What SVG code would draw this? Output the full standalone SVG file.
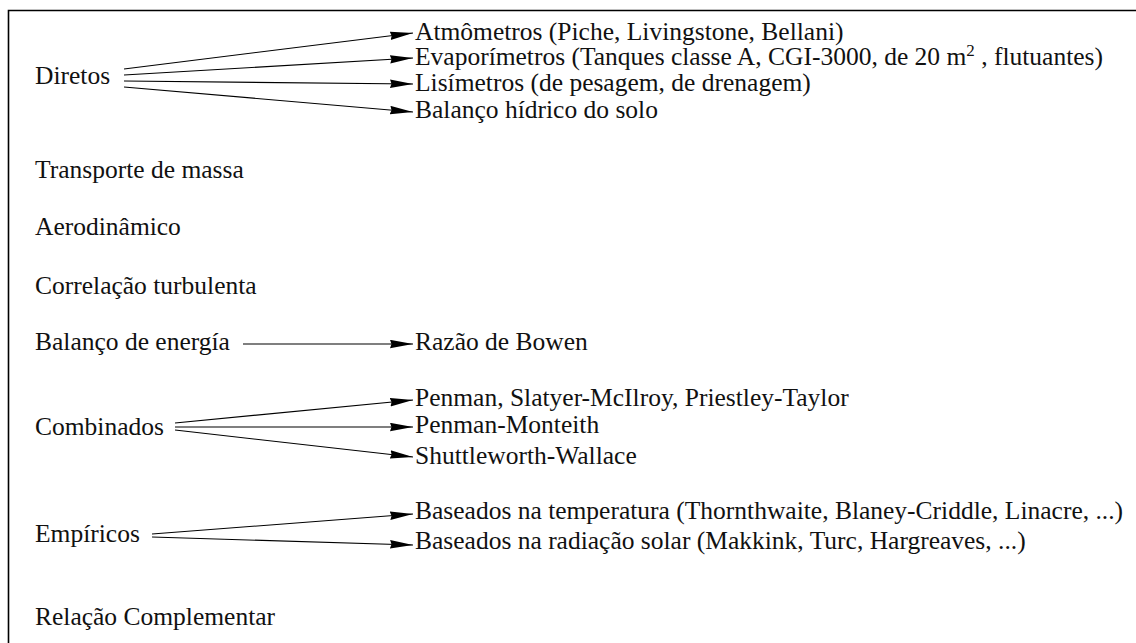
<svg xmlns="http://www.w3.org/2000/svg" width="1136" height="643" viewBox="0 0 1136 643">
<defs>
<marker id="ah" markerWidth="23" markerHeight="9" refX="23" refY="4.5" orient="auto" markerUnits="userSpaceOnUse">
<path d="M0,0.3 L23,4.5 L0,8.7 L1.5,4.5 Z" fill="#000"/>
</marker>
<style>
text{font-family:"Liberation Serif","Times New Roman",serif;font-size:25.5px;fill:#111}
.c line{stroke:#000;stroke-width:1.1;marker-end:url(#ah)}
</style>
</defs>
<rect width="1136" height="643" fill="#fff"/>
<path d="M8.5,643 V10.5 H1136" fill="none" stroke="#000" stroke-width="1.6"/>
<g id="n-diretos"><text x="35" y="84">Diretos</text></g>
<g id="n-atm"><text x="415" y="40">Atmômetros (Piche, Livingstone, Bellani)</text></g>
<g id="n-evap"><text x="415" y="65">Evaporímetros (Tanques classe A, CGI-3000, de 20 m<tspan dy="-9" font-size="17">2</tspan><tspan dy="9"> , flutuantes)</tspan></text></g>
<g id="n-lis"><text x="415" y="91">Lisímetros (de pesagem, de drenagem)</text></g>
<g id="n-bal"><text x="415" y="118">Balanço hídrico do solo</text></g>
<g id="n-transp"><text x="35" y="178">Transporte de massa</text></g>
<g id="n-aero"><text x="35" y="235">Aerodinâmico</text></g>
<g id="n-corr"><text x="35" y="294">Correlação turbulenta</text></g>
<g id="n-energia"><text x="35" y="350">Balanço de energía</text></g>
<g id="n-bowen"><text x="415" y="350">Razão de Bowen</text></g>
<g id="n-comb"><text x="35" y="435">Combinados</text></g>
<g id="n-penman"><text x="415" y="406">Penman, Slatyer-McIlroy, Priestley-Taylor</text></g>
<g id="n-pm"><text x="415" y="433">Penman-Monteith</text></g>
<g id="n-sw"><text x="415" y="464">Shuttleworth-Wallace</text></g>
<g id="n-emp"><text x="35" y="542">Empíricos</text></g>
<g id="n-temp"><text x="415" y="519">Baseados na temperatura (Thornthwaite, Blaney-Criddle, Linacre, ...)</text></g>
<g id="n-rad"><text x="415" y="549">Baseados na radiação solar (Makkink, Turc, Hargreaves, ...)</text></g>
<g id="n-rel"><text x="35" y="625">Relação Complementar</text></g>
<g id="connectors" class="c">
<line x1="124" y1="69" x2="413" y2="33"/>
<line x1="124" y1="75" x2="413" y2="58"/>
<line x1="124" y1="81" x2="413" y2="84"/>
<line x1="124" y1="87" x2="413" y2="112"/>
<line x1="243" y1="344" x2="413" y2="344"/>
<line x1="175" y1="423" x2="413" y2="400"/>
<line x1="175" y1="427" x2="413" y2="427"/>
<line x1="175" y1="430" x2="413" y2="457"/>
<line x1="152" y1="534" x2="413" y2="514"/>
<line x1="152" y1="537" x2="413" y2="545"/>
</g>
</svg>
